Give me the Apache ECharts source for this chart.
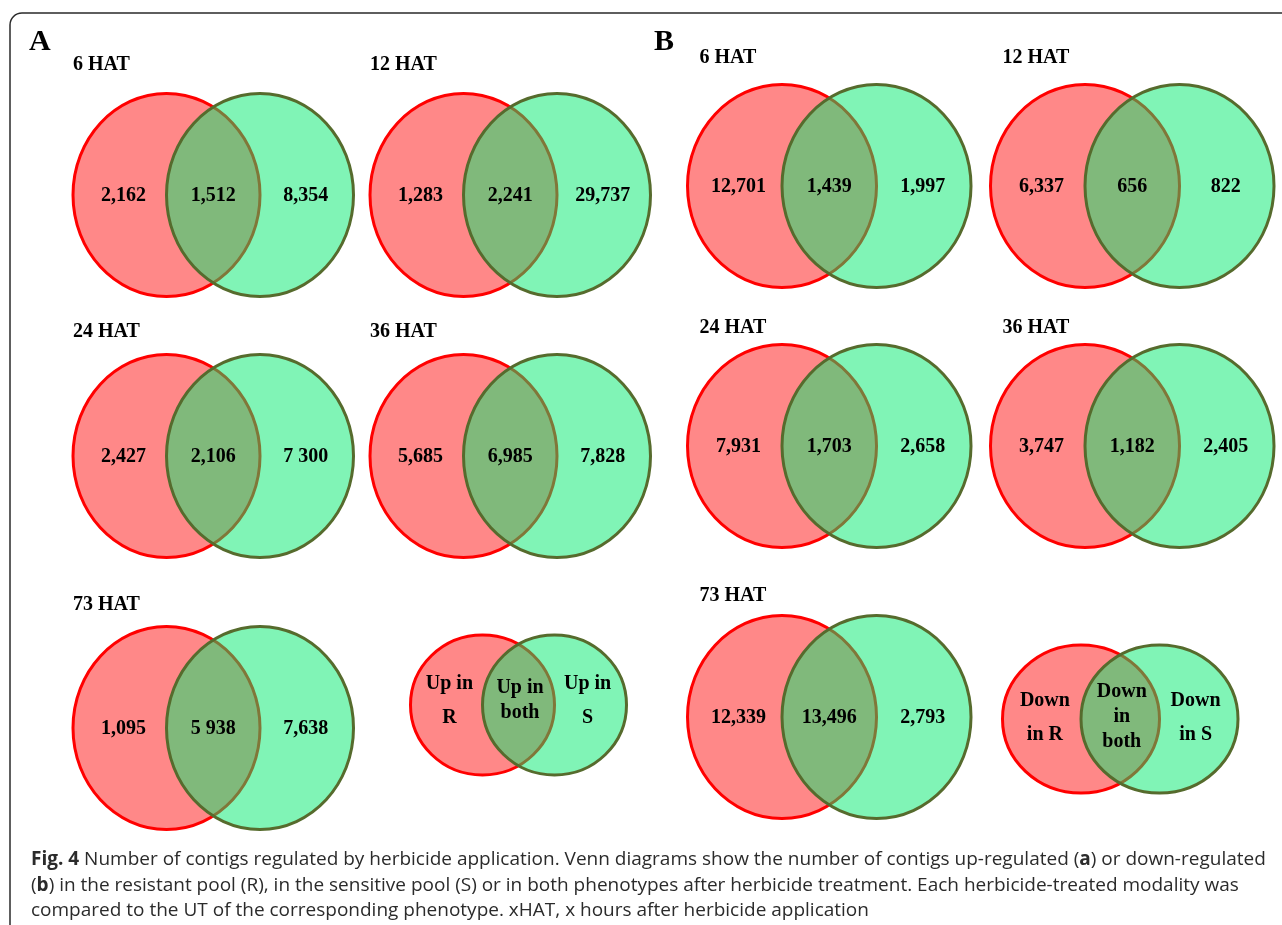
<!DOCTYPE html>
<html>
<head>
<meta charset="utf-8">
<title>Fig. 4 – contigs regulated by herbicide application</title>
<script src="https://cdn.jsdelivr.net/npm/echarts@6/dist/echarts.min.js"></script>
<style>
  html, body { margin: 0; padding: 0; background: #ffffff; }
  #chart { width: 1282px; height: 925px; }
</style>
</head>
<body>
<div id="chart"></div>
<script>
// Time points after herbicide application
const timepoints = ['6 HAT', '12 HAT', '24 HAT', '36 HAT', '73 HAT'];

// (A) up-regulated contigs: only in R, in both, only in S
const upOnlyR = [2162, 1283, 2427, 5685, 1095];
const upBoth  = [1512, 2241, 2106, 6985, 5938];
const upOnlyS = [8354, 29737, 7300, 7828, 7638];

// (B) down-regulated contigs: only in R, in both, only in S
const downOnlyR = [12701, 6337, 7931, 3747, 12339];
const downBoth  = [1439, 656, 1703, 1182, 13496];
const downOnlyS = [1997, 822, 2658, 2405, 2793];

// Cells printed with a space as thousands separator ("panel:region:index")
const spaceGrouped = ['A:S:2', 'A:both:4'];

// Key diagram labels
const upKey   = ['Up in\nR', 'Up in\nboth', 'Up in\nS'];
const downKey = ['Down\nin R', 'Down\nin\nboth', 'Down\nin S'];

const FONT = '"Liberation Serif", "Times New Roman", serif';
const RED_FILL = '#ff8888';
const RED_LINE = '#ff0000';
const GREEN_FILL = 'rgba(6, 233, 112, 0.51)';
const GREEN_LINE = '#566b2d';

// Panel geometry (in page units of the hidden cartesian frame)
const panels = {
  A: { colCx: [166.5, 463.5], rowCy: [195, 456, 728], titleY: [65, 332, 605], titleDx: 0,
       rx: 93.5, ry: 101.5, key: { cx: 482.5, cy: 705, rx: 72, ry: 70, dy: 0 } },
  B: { colCx: [782, 1085], rowCy: [186, 446, 717], titleY: [58, 328, 596], titleDx: 12,
       rx: 94.5, ry: 101.5, key: { cx: 1081, cy: 719, rx: 78.5, ry: 74, dy: 3 } }
};

function fmt(v, panel, region, i) {
  const sep = spaceGrouped.indexOf(panel + ':' + region + ':' + i) >= 0 ? ' ' : ',';
  return String(v).replace(/\B(?=(\d{3})+(?!\d))/g, sep);
}

function txt(x, y, text, size, align) {
  const a = align || 'center';
  return {
    type: 'text',
    style: {
      x: x, y: y, text: text,
      font: 'bold ' + size + 'px ' + FONT,
      fill: '#000000',
      align: a, verticalAlign: 'middle',
      textAlign: a, textVerticalAlign: 'middle'
    }
  };
}

// Two overlapping sets: red (R) drawn first, translucent green (S) on top
function vennShapes(api, cx, cy, rx, ry) {
  const pR = api.coord([cx, cy]);
  const pS = api.coord([cx + rx, cy]);
  const sz = api.size([rx, ry]);
  const rxp = Math.abs(sz[0]), ryp = Math.abs(sz[1]);
  return {
    pR: pR, pS: pS, rx: rxp, ry: ryp,
    shapes: [
      { type: 'ellipse', shape: { cx: pR[0], cy: pR[1], rx: rxp, ry: ryp },
        style: { fill: RED_FILL, stroke: RED_LINE, lineWidth: 3 } },
      { type: 'ellipse', shape: { cx: pS[0], cy: pS[1], rx: rxp, ry: ryp },
        style: { fill: GREEN_FILL, stroke: GREEN_LINE, lineWidth: 3 } }
    ]
  };
}

function panelRenderer(panelKey) {
  const L = panels[panelKey];
  return function (params, api) {
    const i = api.value(0);
    const col = i % 2, row = Math.floor(i / 2);
    const cx = L.colCx[col], cy = L.rowCy[row];
    const v = vennShapes(api, cx, cy, L.rx, L.ry);
    const tp = api.coord([cx - L.rx + L.titleDx, L.titleY[row]]);
    const children = v.shapes.slice();
    children.push(txt(tp[0], tp[1], timepoints[i], 20, 'left'));
    const y = v.pR[1] + 1;
    children.push(txt(v.pR[0] - v.rx * 0.46, y, fmt(api.value(1), panelKey, 'R', i), 20));
    children.push(txt((v.pR[0] + v.pS[0]) / 2, y, fmt(api.value(2), panelKey, 'both', i), 20));
    children.push(txt(v.pS[0] + v.rx * 0.49, y, fmt(api.value(3), panelKey, 'S', i), 20));
    return { type: 'group', children: children };
  };
}

function keyRenderer(panelKey, labels) {
  const K = panels[panelKey].key;
  return function (params, api) {
    const v = vennShapes(api, K.cx, K.cy, K.rx, K.ry);
    const children = v.shapes.slice();
    const sideLH = 34, midLH = 25;
    const side = labels[0].split('\n').length;
    const mid = labels[1].split('\n').length;
    const yc = v.pR[1] + K.dy;
    const sideTop = yc - (side - 1) * sideLH / 2 - 4;
    const midTop = yc - (mid - 1) * midLH / 2 - 5;
    labels[0].split('\n').forEach(function (s, k) {
      children.push(txt(v.pR[0] - v.rx * 0.46, sideTop + k * sideLH, s, 20));
    });
    labels[1].split('\n').forEach(function (s, k) {
      children.push(txt((v.pR[0] + v.pS[0]) / 2 + 1.5, midTop + k * midLH, s, 20));
    });
    labels[2].split('\n').forEach(function (s, k) {
      children.push(txt(v.pS[0] + v.rx * 0.46, sideTop + k * sideLH, s, 20));
    });
    return { type: 'group', children: children };
  };
}

const upData = timepoints.map(function (t, i) { return [i, upOnlyR[i], upBoth[i], upOnlyS[i]]; });
const downData = timepoints.map(function (t, i) { return [i, downOnlyR[i], downBoth[i], downOnlyS[i]]; });

const captionStyle = { fontFamily: '"Open Sans", "Noto Sans", sans-serif', fontSize: 19, lineHeight: 25.5, color: '#2b2b2b' };

const chart = echarts.init(document.getElementById('chart'), null, { renderer: 'canvas' });
chart.setOption({
  animation: false,
  backgroundColor: '#ffffff',
  grid: { left: 0, right: 0, top: 0, bottom: 0 },
  xAxis: { type: 'value', min: 0, max: 1282, show: false },
  yAxis: { type: 'value', min: 0, max: 925, inverse: true, show: false },
  title: {
    left: 26, top: 842,
    text: '{b|Fig. 4} Number of contigs regulated by herbicide application. Venn diagrams show the number of contigs up-regulated ({b|a}) or down-regulated\n' +
          '({b|b}) in the resistant pool (R), in the sensitive pool (S) or in both phenotypes after herbicide treatment. Each herbicide-treated modality was\n' +
          'compared to the UT of the corresponding phenotype. xHAT, x hours after herbicide application',
    textStyle: Object.assign({ fontWeight: 'normal', rich: { b: Object.assign({ fontWeight: 'bold' }, captionStyle) } }, captionStyle)
  },
  graphic: [
    { type: 'rect', z: -10, shape: { x: 10, y: 13, width: 1300, height: 940, r: 12 },
      style: { fill: 'none', stroke: '#2a2a2a', lineWidth: 1.5 } },
    { type: 'text', left: 29, top: 27, style: { text: 'A', font: 'bold 30px ' + FONT, fill: '#000' } },
    { type: 'text', left: 654, top: 27, style: { text: 'B', font: 'bold 30px ' + FONT, fill: '#000' } }
  ],
  series: [
    { name: 'Up-regulated', type: 'custom', coordinateSystem: 'cartesian2d', clip: false,
      renderItem: panelRenderer('A'), data: upData },
    { name: 'Down-regulated', type: 'custom', coordinateSystem: 'cartesian2d', clip: false,
      renderItem: panelRenderer('B'), data: downData },
    { name: 'Up key', type: 'custom', coordinateSystem: 'cartesian2d', clip: false,
      renderItem: keyRenderer('A', upKey), data: [[0]] },
    { name: 'Down key', type: 'custom', coordinateSystem: 'cartesian2d', clip: false,
      renderItem: keyRenderer('B', downKey), data: [[0]] }
  ]
});
</script>
</body>
</html>
